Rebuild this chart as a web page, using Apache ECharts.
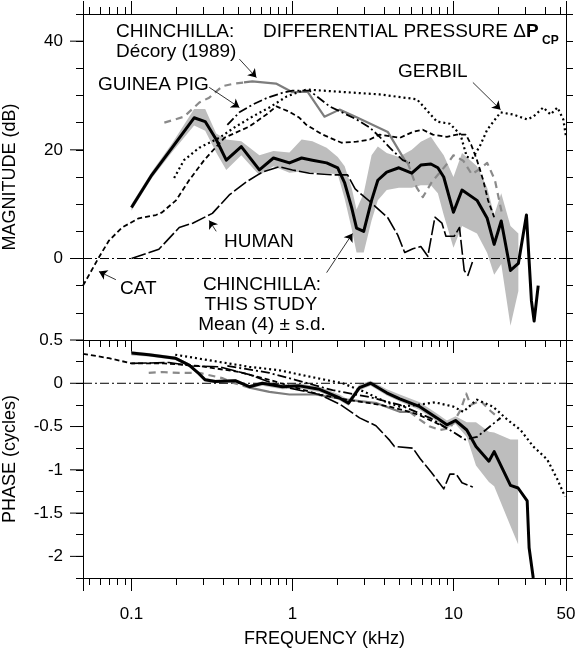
<!DOCTYPE html>
<html><head><meta charset="utf-8">
<script src="https://cdn.jsdelivr.net/npm/echarts@6/dist/echarts.min.js"></script>
<style>html,body{margin:0;padding:0;background:#fff}#c{width:580px;height:651px}</style>
</head><body><div id="c"></div>
<script>
// ---------- tick labels ----------
const xTickLabels = [0.1, 1, 10, 50];
const magTickLabels = [0, 20, 40];
const phaseTickLabels = [-2, -1.5, -1, -0.5, 0, 0.5];

// ---------- MAGNITUDE panel (kHz, dB) ----------
const magMeanFreq = [0.1,0.134,0.179,0.245,0.287,0.336,0.388,0.481,0.623,0.762,0.958,1.14,1.33,1.63,1.91,2.11,2.33,2.5,2.77,3.1,3.39,3.85,4.58,5.51,6.27,7.24,8.0,8.7,10.0,11.3,14.0,16.2,17.9,19.8,22.6,25.3,28.4,30.5,31.7,33.6];
const magMeanDb = [9.4,15.4,20.4,25.9,25.2,21.9,18.1,20.6,16.3,18.5,17.6,18.5,18.1,17.6,16.7,13.9,9.4,5.6,5.0,10.7,14.4,15.9,16.7,15.7,17.2,17.4,16.7,15.0,8.5,12.6,10.7,7.4,2.6,6.9,-2.2,-0.9,8.0,-7.8,-11.5,-5.0];
const magSdLow = [8.8,14.8,19.6,24.5,23.5,19.5,16.3,19.0,15.3,17.0,15.8,16.0,15.8,15.7,15.5,11.0,5.5,1.1,1.1,7.0,10.7,12.6,13.0,13.0,13.5,13.5,12.0,8.0,2.0,6.0,4.6,1.0,-3.0,-1.0,-12.4,-6.0];
const magSdHigh = [10.0,16.0,21.2,27.5,27.5,23.0,21.9,21.6,19.0,19.8,19.5,21.9,21.6,20.4,18.7,17.0,13.0,9.0,12.0,19.0,20.6,19.4,18.7,20.0,21.5,22.4,20.5,19.0,15.0,19.4,17.0,13.0,8.0,12.0,6.0,4.6];

const decoryMagLow = [[0.16,25.0],[0.212,26.1],[0.264,28.7],[0.304,29.6],[0.366,31.7],[0.435,32.2],[0.50,32.4]];
const decoryMagMid = [[0.50,32.4],[0.563,32.6],[0.79,32.2],[1.0,30.6],[1.24,30.7],[1.58,26.1],[1.96,27.4],[2.54,25.9],[3.91,23.3],[4.98,18.1],[5.2,17.6]];
const decoryMagHigh = [[5.2,17.6],[5.9,13.1],[6.45,11.3],[7.35,14.1],[9.35,17.8],[10.0,19.0],[11.5,18.0],[13.0,15.5],[14.6,16.5],[16.2,17.6],[18.1,14.4],[20.0,8.3]];
const catMag = [[0.05,-5.0],[0.0627,0.2],[0.0725,3.3],[0.0874,5.7],[0.111,7.4],[0.142,8.0],[0.155,8.5],[0.189,10.7],[0.228,14.4],[0.283,18.1],[0.377,22.2],[0.54,24.3],[0.689,26.5],[0.795,28.0],[0.958,27.0],[1.105,25.9],[1.22,24.6],[1.54,22.8],[2.02,21.3],[2.5,21.5],[3.02,21.9],[3.48,22.8],[4.64,22.2],[5.6,23.3],[6.45,23.7],[7.45,22.8],[9.1,22.4],[10.5,22.8],[11.95,22.8],[12.9,20.9],[14.0,18.1],[15.3,14.4],[16.4,10.7],[17.9,7.6]];
const guineaPigMag = [[0.394,24.6],[0.468,26.9],[0.563,28.3],[0.70,29.6],[0.866,30.5],[1.0,30.9],[1.276,30.9],[1.70,28.0],[2.5,25.6],[3.02,24.1],[3.48,22.4],[4.02,20.4],[4.84,18.1],[5.36,17.6]];
const gerbilMag = [[0.184,14.8],[0.212,18.1],[0.264,20.4],[0.351,22.2],[0.435,24.1],[0.563,26.1],[0.719,27.8],[0.918,29.8],[1.105,30.7],[1.22,31.1],[2.17,30.6],[3.48,30.2],[5.93,29.3],[7.89,25.2],[9.5,24.8],[11.06,22.8],[12.1,18.7],[13.2,18.5],[14.7,20.9],[16.2,23.7],[19.6,26.9],[23.5,26.5],[28.7,25.6],[31.3,26.1],[36.1,27.8],[40.1,26.5],[44.2,27.8],[48.1,25.6],[50,22.4]];
const humanMag = [[0.1,0],[0.148,1.7],[0.198,5.7],[0.24,6.5],[0.318,8.3],[0.405,11.7],[0.517,14.1],[0.65,15.9],[0.83,16.9],[1.0,16.3],[1.276,15.7],[1.775,15.4],[2.2,15.4],[2.45,12.8],[3.02,10.5],[3.91,7.5],[4.51,4.3],[4.98,1.1],[5.6,1.8],[6.27,2.2],[6.93,0.4],[7.67,7.6],[8.48,6.5],[8.98,4.1],[10.1,4.1],[10.9,5.7],[11.66,-2.2],[12.3,-3.1],[13.2,-0.4]];

// annotation arrows [from, to] in (kHz, dB)
const magArrows = [
  [[0.468,36.7],[0.597,33.3]],
  [[0.304,31.5],[0.468,27.8]],
  [[13.2,32.4],[19.6,27.4]],
  [[0.336,5.0],[0.304,7.0]],
  [[0.080,-3.9],[0.0628,-2.4]],
  [[1.63,-2.6],[2.36,4.6]]
];

// ---------- PHASE panel (kHz, cycles) ----------
const phaseMeanFreq = [0.1,0.128,0.187,0.228,0.256,0.287,0.331,0.441,0.54,0.65,0.866,1.105,1.473,1.96,2.23,2.61,3.06,3.85,4.64,6.18,7.89,9.1,10.3,12.1,13.8,16.6,17.9,22.6,25.2,28.7,29.5,31.3];
const phaseMeanCyc = [0.35,0.33,0.29,0.21,0.13,0.04,0.02,0.03,-0.04,0.00,-0.04,-0.03,-0.07,-0.17,-0.23,-0.05,0.00,-0.11,-0.18,-0.27,-0.40,-0.48,-0.43,-0.54,-0.73,-0.90,-0.79,-1.18,-1.21,-1.36,-1.90,-2.25];
const phaseSdLow = [0.32,0.31,0.27,0.19,0.11,0.02,0.00,0.01,-0.06,-0.03,-0.07,-0.06,-0.10,-0.20,-0.26,-0.08,-0.03,-0.14,-0.21,-0.31,-0.44,-0.52,-0.47,-0.62,-0.95,-1.14,-1.19,-1.65,-1.86];
const phaseSdHigh = [0.37,0.35,0.31,0.23,0.15,0.06,0.04,0.05,-0.02,0.02,-0.01,0.0,-0.04,-0.13,-0.19,-0.01,0.03,-0.07,-0.13,-0.22,-0.35,-0.43,-0.38,-0.45,-0.45,-0.56,-0.57,-0.65,-0.65];

const decoryPhaseLow = [[0.128,0.12],[0.155,0.13],[0.198,0.12],[0.264,0.12],[0.366,0.06],[0.435,0.0],[0.54,-0.05]];
const decoryPhaseMid = [[0.54,-0.05],[0.719,-0.10],[0.958,-0.13],[1.39,-0.13],[2.17,-0.19],[3.34,-0.23],[4.64,-0.33],[5.36,-0.33]];
const decoryPhaseHigh = [[5.36,-0.33],[6.18,-0.42],[7.14,-0.50],[8.24,-0.54],[9.5,-0.52],[11.06,-0.31],[12.0,-0.12],[12.77,-0.25],[14.7,-0.20],[17.0,-0.32],[19.6,-0.42]];
const catPhase = [[0.05,0.34],[0.0725,0.29],[0.1,0.23],[0.159,0.23],[0.264,0.20],[0.468,0.13],[0.719,0.04],[1.0,-0.04],[1.473,-0.13],[2.17,-0.19],[3.02,-0.23],[4.02,-0.27],[5.36,-0.33],[6.18,-0.37],[8.24,-0.48],[9.1,-0.52]];
const guineaPigPhase = [[0.394,0.20],[0.719,0.12],[1.04,0.04],[1.775,-0.08],[3.02,-0.16],[4.64,-0.25],[7.14,-0.40],[9.5,-0.54],[11.8,-0.65],[14.0,-0.62],[19.6,-0.40]];
const gerbilPhase = [[0.187,0.33],[0.54,0.19],[0.83,0.15],[1.33,0.07],[2.05,0.0],[2.81,-0.10],[3.85,-0.22],[4.64,-0.27],[5.93,-0.25],[7.67,-0.22],[10,-0.27],[11.5,-0.33],[13.2,-0.23],[14.0,-0.19],[17.6,-0.27],[21.6,-0.42],[26.1,-0.54],[31.3,-0.73],[38.2,-0.88],[44.2,-1.11],[49.3,-1.31]];
const humanPhase = [[0.1,0.23],[0.171,0.24],[0.238,0.20],[0.351,0.19],[0.54,0.10],[0.83,-0.03],[1.105,-0.08],[1.473,-0.13],[1.96,-0.24],[2.61,-0.40],[3.3,-0.49],[4.02,-0.66],[4.3,-0.73],[5.6,-0.75],[6.2,-0.87],[7.3,-1.03],[8.7,-1.22],[9.5,-1.05],[10.4,-1.05],[11.3,-1.15],[13.2,-1.20]];

// ---------- helpers ----------
const FONT = '"Liberation Sans", Arial, Helvetica, sans-serif';
const X_MIN = 0.05, X_MAX = 50;
const zip = (f, v) => f.map((x, i) => [x, v[i]]);

const STY = {
  mean:   {color:'#000', width:3},
  decS:   {color:'#7d7d7d', width:2.2},
  decD:   {color:'#8a8a8a', width:2.2, type:[7,5]},
  cat:    {color:'#000', width:1.8, type:[5,3]},
  gpig:   {color:'#000', width:1.8, type:[9,3,2,3]},
  gerbil: {color:'#000', width:2.2, type:[2,3]},
  human:  {color:'#000', width:1.6, type:[15,3]},
  zero:   {color:'#000', width:1, type:[9,3,2,3]}
};

function line(data, panel, style, z) {
  return {type:'line', xAxisIndex: panel ? 2 : 0, yAxisIndex: panel ? 2 : 0, data,
    symbol:'none', showSymbol:false, silent:true, clip:true, z: z || 3,
    lineStyle: Object.assign({cap:'butt', join:'round'}, style)};
}
function band(freq, low, high, panel) {
  const n = low.length;
  return {type:'custom', xAxisIndex: panel ? 2 : 0, yAxisIndex: panel ? 2 : 0, silent:true, z:1, clip:true,
    data: freq.slice(0, n).map((f, i) => [f, low[i], high[i]]),
    encode:{x:0, y:[1,2]},
    renderItem: function (params, api) {
      if (params.dataIndex !== 0) return null;
      const pts = [];
      for (let i = 0; i < n; i++) pts.push(api.coord([freq[i], high[i]]));
      for (let i = n - 1; i >= 0; i--) pts.push(api.coord([freq[i], low[i]]));
      return {type:'polygon', shape:{points:pts}, style:{fill:'#bdbdbd'}};
    }};
}
function majorTicks(vals, panel) {
  return {type:'custom', xAxisIndex: panel ? 2 : 0, yAxisIndex: panel ? 2 : 0, silent:true, clip:false, z:10,
    data: vals.map(v => [X_MIN, v]),
    renderItem: function (params, api) {
      const p = api.coord([api.value(0), api.value(1)]);
      return {type:'line', shape:{x1:p[0]-13, y1:p[1], x2:p[0], y2:p[1]}, style:{stroke:'#000', lineWidth:1}};
    }};
}
const isIn = (arr, v) => arr.some(a => Math.abs(a - v) < 1e-6);

function xAxis(grid, pos, labels) {
  return {type:'log', logBase:10, gridIndex:grid, position:pos, min:X_MIN, max:X_MAX,
    axisLine:{show:true, onZero:false, lineStyle:{color:'#000', width:1}},
    axisTick:{show:true, inside:false, length:13, lineStyle:{color:'#000', width:1}},
    minorTick:{show:true, splitNumber:10, length:7, lineStyle:{color:'#000', width:1}},
    splitLine:{show:false}, minorSplitLine:{show:false},
    axisLabel:{show:labels, fontSize:17, fontFamily:FONT, color:'#000', margin:28,
      formatter: v => { const r = xTickLabels.find(a => Math.abs(a - v) / a < 1e-3); return r === undefined ? '' : String(r); }},
    name: labels ? 'FREQUENCY (kHz)' : '', nameLocation:'middle', nameGap:52,
    nameTextStyle:{fontSize:18, fontFamily:FONT, color:'#000'}};
}
function yAxis(grid, pos, min, max, interval, labelVals, name) {
  return {type:'value', gridIndex:grid, position:pos, min, max, interval,
    axisLine:{show:true, onZero:false, lineStyle:{color:'#000', width:1}},
    axisTick:{show:true, inside:false, length:7, lineStyle:{color:'#000', width:1}},
    splitLine:{show:false},
    axisLabel:{show: !!labelVals, fontSize:17, fontFamily:FONT, color:'#000', margin:20,
      formatter: v => (labelVals && isIn(labelVals, v)) ? String(Math.round(v * 100) / 100) : ''},
    name: name || '', nameLocation:'middle', nameGap:64, nameRotate:90,
    nameTextStyle:{fontSize:18, fontFamily:FONT, color:'#000'}};
}

const txt = (text, x, y, align, extra) => ({type:'text', z:50, silent:true,
  style: Object.assign({text, x, y, align: align || 'left', verticalAlign:'middle', fill:'#000',
    fontSize:19, fontFamily:FONT}, extra || {})});

const chart = echarts.init(document.getElementById('c'), null, {renderer:'canvas'});
chart.setOption({
  animation:false,
  backgroundColor:'#fff',
  textStyle:{fontFamily:FONT},
  grid:[
    {left:83, right:14, top:14, height:326, containLabel:false, outerBoundsMode:'none'},
    {left:83, right:14, top:340, height:238, containLabel:false, outerBoundsMode:'none'}
  ],
  xAxis:[ xAxis(0,'bottom',false), xAxis(0,'top',false), xAxis(1,'bottom',true) ],
  yAxis:[
    yAxis(0,'left',-15,45,5,magTickLabels,'MAGNITUDE (dB)'),
    yAxis(0,'right',-15,45,5,null),
    yAxis(1,'left',-2.25,0.5,0.25,phaseTickLabels,'PHASE (cycles)'),
    yAxis(1,'right',-2.25,0.5,0.25,null)
  ],
  series:[
    // magnitude
    band(magMeanFreq, magSdLow, magSdHigh, 0),
    line([[X_MIN,0],[X_MAX,0]], 0, STY.zero, 2),
    line(decoryMagLow, 0, STY.decD, 3),
    line(decoryMagMid, 0, STY.decS, 3),
    line(decoryMagHigh, 0, STY.decD, 3),
    line(catMag, 0, STY.cat, 4),
    line(guineaPigMag, 0, STY.gpig, 4),
    line(gerbilMag, 0, STY.gerbil, 4),
    line(humanMag, 0, STY.human, 4),
    line(zip(magMeanFreq, magMeanDb), 0, STY.mean, 6),
    majorTicks(magTickLabels, 0),
    {type:'lines', coordinateSystem:'cartesian2d', xAxisIndex:0, yAxisIndex:0, silent:true, z:20,
      data: magArrows.map(c => ({coords:c})), symbol:['none','arrow'], symbolSize:[0,8],
      lineStyle:{color:'#000', width:0.8, opacity:1, curveness:0}},
    // phase
    band(phaseMeanFreq, phaseSdLow, phaseSdHigh, 1),
    line([[X_MIN,0],[X_MAX,0]], 1, STY.zero, 2),
    line(decoryPhaseLow, 1, STY.decD, 3),
    line(decoryPhaseMid, 1, STY.decS, 3),
    line(decoryPhaseHigh, 1, STY.decD, 3),
    line(catPhase, 1, STY.cat, 4),
    line(guineaPigPhase, 1, STY.gpig, 4),
    line(gerbilPhase, 1, STY.gerbil, 4),
    line(humanPhase, 1, STY.human, 4),
    line(zip(phaseMeanFreq, phaseMeanCyc), 1, STY.mean, 6),
    majorTicks(phaseTickLabels, 1)
  ],
  graphic:[
    txt('CHINCHILLA:', 116, 32),
    txt('Décory (1989)', 116, 52),
    {type:'text', z:50, silent:true, style:{x:263, y:32, verticalAlign:'middle', fill:'#000',
      text:'{n|DIFFERENTIAL PRESSURE Δ}{b|P}',
      rich:{n:{fontSize:19, fontFamily:FONT}, b:{fontSize:19, fontFamily:FONT, fontWeight:'bold'}}}},
    txt('CP', 542, 41, 'left', {fontSize:12, fontWeight:'bold'}),
    txt('GUINEA PIG', 98, 85),
    txt('GERBIL', 398, 72),
    txt('HUMAN', 224, 242),
    txt('CAT', 120, 289),
    txt('CHINCHILLA:', 262, 285, 'center'),
    txt('THIS STUDY', 261, 305, 'center'),
    txt('Mean (4) ± s.d.', 262, 325, 'center')
  ]
});
</script></body></html>
